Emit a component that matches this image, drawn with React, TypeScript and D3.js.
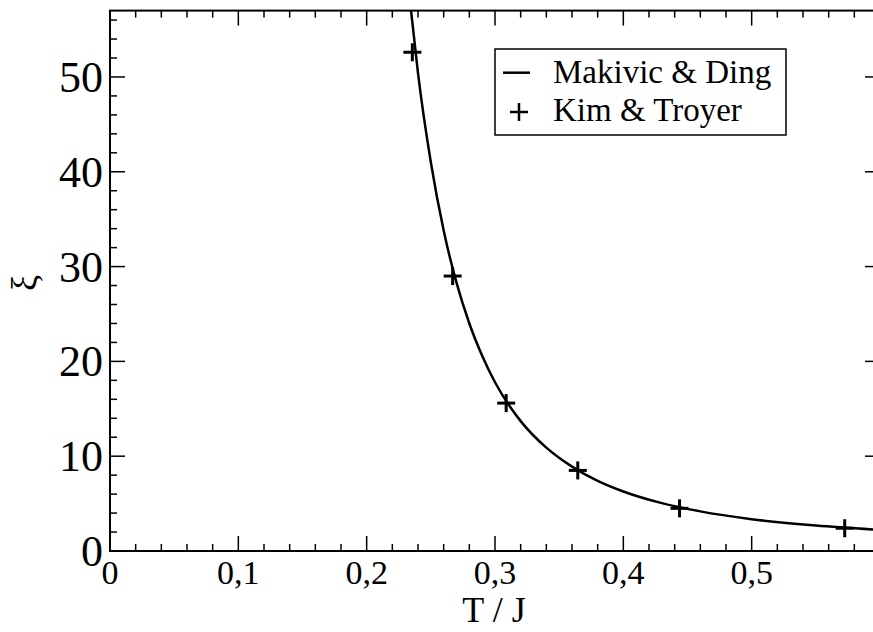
import React from "react";
import * as d3 from "d3";

const curveT = [0.234, 0.24, 0.25, 0.26, 0.27, 0.28, 0.29, 0.30, 0.32, 0.34, 0.36, 0.38, 0.40, 0.43, 0.46, 0.50, 0.55, 0.60];
const curveXi = [57.7, 50.4, 41.0, 33.8, 28.3, 24.0, 20.6, 17.8, 13.7, 10.9, 8.9, 7.4, 6.28, 5.05, 4.18, 3.36, 2.68, 2.22];

const pointT = [0.2356, 0.267, 0.3087, 0.3645, 0.4438, 0.5725];
const pointXi = [52.6, 29.0, 15.6, 8.5, 4.5, 2.4];

const xMajor = [0, 0.1, 0.2, 0.3, 0.4, 0.5];
const xMajorLabels = ["0", "0,1", "0,2", "0,3", "0,4", "0,5"];
const yMajor = [0, 10, 20, 30, 40, 50];
const yMajorLabels = ["0", "10", "20", "30", "40", "50"];

const legendLabels = ["Makivic & Ding", "Kim & Troyer"];

const FONT = "'Liberation Serif', 'Times New Roman', serif";

export default function App() {
  const W = 873, H = 632;
  const L = 110, R = 880, T = 10.6, B = 551;
  const x = d3.scaleLinear().domain([0, 0.6]).range([L, R]);
  const y = d3.scaleLinear().domain([0, 57]).range([B, T]);

  const xMinor = d3.range(0, 0.6001, 0.02).filter(v => Math.abs(v * 10 - Math.round(v * 10)) > 1e-6);
  const yMinor = d3.range(0, 57.001, 2).filter(v => v % 10 !== 0);

  const line = d3.line<number>()
    .x((_, i) => x(curveT[i]))
    .y((_, i) => y(curveXi[i]))
    .curve(d3.curveMonotoneX);
  const curvePath = line(curveT.map((_, i) => i)) || "";

  const MAJ = 15, MIN = 7;
  const tickStroke = { stroke: "#000", strokeWidth: 1.5 };

  return (
    <svg width={W} height={H} style={{ position: "absolute", left: 0, top: 0, display: "block", background: "#fff" }}>
      <defs>
        <clipPath id="plotclip">
          <rect x={L} y={T} width={R - L} height={B - T} />
        </clipPath>
      </defs>
      {xMajor.map(v => (
        <g key={"xm" + v}>
          <line x1={x(v)} x2={x(v)} y1={B} y2={B - MAJ} {...tickStroke} />
          <line x1={x(v)} x2={x(v)} y1={T} y2={T + MAJ} {...tickStroke} />
        </g>
      ))}
      {xMinor.map(v => (
        <g key={"xn" + v}>
          <line x1={x(v)} x2={x(v)} y1={B} y2={B - MIN} {...tickStroke} />
          <line x1={x(v)} x2={x(v)} y1={T} y2={T + MIN} {...tickStroke} />
        </g>
      ))}
      {yMajor.map(v => (
        <g key={"ym" + v}>
          <line x1={L} x2={L + MAJ} y1={y(v)} y2={y(v)} {...tickStroke} />
          <line x1={R} x2={R - MAJ} y1={y(v)} y2={y(v)} {...tickStroke} />
        </g>
      ))}
      {yMinor.map(v => (
        <g key={"yn" + v}>
          <line x1={L} x2={L + MIN} y1={y(v)} y2={y(v)} {...tickStroke} />
          <line x1={R} x2={R - MIN} y1={y(v)} y2={y(v)} {...tickStroke} />
        </g>
      ))}
      <rect x={L} y={T} width={R - L} height={B - T} fill="none" stroke="#000" strokeWidth={2} />

      {xMajor.map((v, i) => (
        <text key={"xl" + v} x={x(v)} y={584} textAnchor="middle" fontFamily={FONT} fontSize={34}>
          {xMajorLabels[i]}
        </text>
      ))}
      {yMajor.map((v, i) => (
        <text key={"yl" + v} x={103} y={y(v) + 15} textAnchor="end" fontFamily={FONT} fontSize={44}>
          {yMajorLabels[i]}
        </text>
      ))}

      <text x={494} y={622} textAnchor="middle" fontFamily={FONT} fontSize={36}>T / J</text>
      <text transform="translate(36,283) rotate(-90)" textAnchor="middle" fontFamily={FONT} fontSize={36}>ξ</text>

      <g clipPath="url(#plotclip)">
        <path d={curvePath} fill="none" stroke="#000" strokeWidth={2.5} />
        {pointT.map((t, i) => (
          <g key={"p" + i}>
            <line x1={x(t) - 9} x2={x(t) + 9} y1={y(pointXi[i])} y2={y(pointXi[i])} stroke="#000" strokeWidth={3} />
            <line x1={x(t)} x2={x(t)} y1={y(pointXi[i]) - 9} y2={y(pointXi[i]) + 9} stroke="#000" strokeWidth={3} />
          </g>
        ))}
      </g>

      <rect x={495} y={49} width={291} height={86} fill="#fff" stroke="#000" strokeWidth={1.5} />
      <line x1={503} x2={530} y1={72.7} y2={72.7} stroke="#000" strokeWidth={2.5} />
      <line x1={510} x2={528} y1={112} y2={112} stroke="#000" strokeWidth={2.5} />
      <line x1={519} x2={519} y1={103} y2={121} stroke="#000" strokeWidth={2.5} />
      <text x={553} y={83} fontFamily={FONT} fontSize={33}>{legendLabels[0]}</text>
      <text x={553} y={121} fontFamily={FONT} fontSize={33}>{legendLabels[1]}</text>
    </svg>
  );
}
